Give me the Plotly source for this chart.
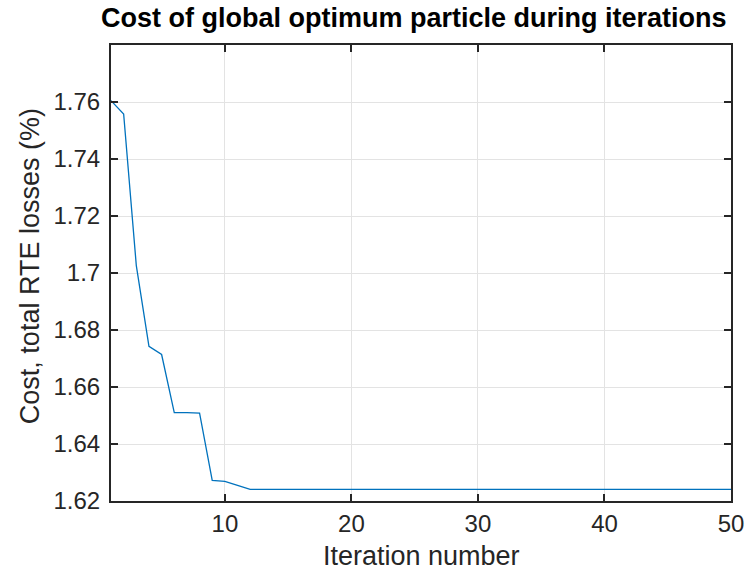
import plotly.graph_objects as go

iterations = list(range(1, 51))
cost = [1.7605, 1.7558, 1.7026, 1.6743, 1.6714, 1.6510, 1.6510, 1.6508, 1.6272, 1.6269,
        1.6255, 1.6241] + [1.6241] * 38

x_ticks = [10, 20, 30, 40, 50]
y_ticks = [1.62, 1.64, 1.66, 1.68, 1.70, 1.72, 1.74, 1.76]
y_tick_text = ["1.62", "1.64", "1.66", "1.68", "1.7", "1.72", "1.74", "1.76"]

title_text = "Cost of global optimum particle during iterations"
x_label = "Iteration number"
y_label = "Cost, total RTE losses (%)"

font_family = "Liberation Sans, Arial, sans-serif"
axis_col = "#262626"

fig = go.Figure()
fig.add_trace(go.Scatter(x=iterations, y=cost, mode="lines",
                         line=dict(color="#0072BD", width=1.3), showlegend=False))

common = dict(showline=True, linecolor=axis_col, linewidth=2, mirror="ticks",
              ticks="inside", ticklen=7, tickwidth=2, tickcolor=axis_col,
              showgrid=True, gridcolor="#e3e3e3", gridwidth=1, zeroline=False,
              automargin=False,
              tickfont=dict(family=font_family, size=24, color=axis_col))

fig.update_xaxes(range=[1, 50], tickvals=x_ticks, **common)
fig.update_yaxes(range=[1.62, 1.78], tickvals=y_ticks, ticktext=y_tick_text,
                 ticklabelstandoff=4, **common)

fig.add_annotation(text=title_text, xref="paper", yref="paper", x=0.489, y=1.0,
                   yshift=10, xanchor="center", yanchor="bottom", showarrow=False,
                   font=dict(family=font_family, size=27, color="black", weight="bold"))
fig.add_annotation(text=x_label, xref="paper", yref="paper", x=0.5, y=0,
                   yshift=-38, xanchor="center", yanchor="top", showarrow=False,
                   font=dict(family=font_family, size=27, color=axis_col))
fig.add_annotation(text=y_label, xref="paper", yref="paper", x=0, y=0.515,
                   xshift=-64, xanchor="right", yanchor="middle", textangle=-90,
                   showarrow=False,
                   font=dict(family=font_family, size=27, color=axis_col))

fig.update_layout(width=745, height=577, margin=dict(l=111, r=14, t=45, b=76),
                  paper_bgcolor="white", plot_bgcolor="white")

fig.write_html("out.html")
